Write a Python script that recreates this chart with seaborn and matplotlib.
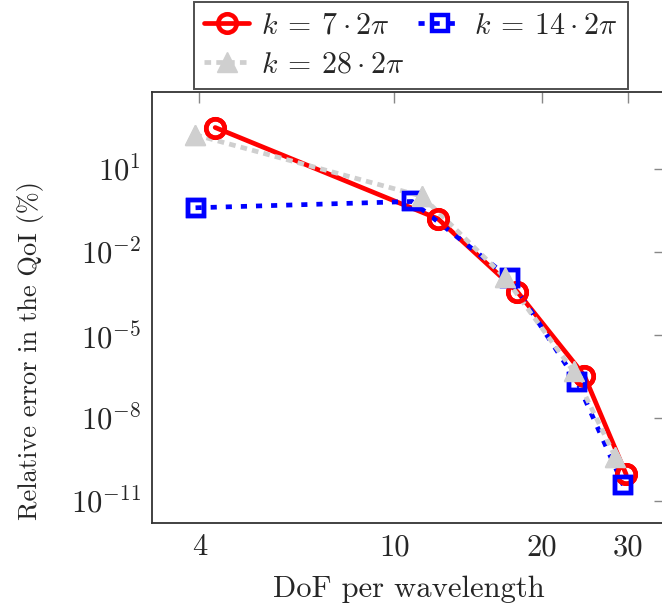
import numpy as np
import pandas as pd
import seaborn as sns
import matplotlib
matplotlib.use("Agg")
import matplotlib.pyplot as plt
from matplotlib.ticker import FixedLocator, NullLocator, LogFormatterSciNotation

# Convergence of the QoI error versus resolution for three wavenumbers
dof_k7 = [4.31, 12.27, 17.8, 24.4, 29.7]
err_k7 = [314.0, 0.158, 3.7e-4, 3.4e-7, 9.1e-11]

dof_k14 = [3.93, 10.87, 17.2, 23.6, 29.3]
err_k14 = [0.394, 0.665, 1.1e-3, 2.0e-7, 3.7e-11]

dof_k28 = [3.92, 11.38, 16.8, 23.2, 28.2]
err_k28 = [172.0, 1.03, 1.2e-3, 4.8e-7, 4.0e-10]

labels = [r"$k\:=\:7\cdot 2\pi$", r"$k\:=\:14\cdot 2\pi$", r"$k\:=\:28\cdot 2\pi$"]
x_ticks = [4, 10, 20, 30]
x_tick_labels = ["4", "10", "20", "30"]
y_exponents = [1, -2, -5, -8, -11]

sns.set_theme(style="white")
plt.rcParams["font.family"] = ["serif"]
plt.rcParams["font.serif"] = ["cmr10", "DejaVu Serif"]
plt.rcParams["mathtext.fontset"] = "cm"
plt.rcParams["axes.formatter.use_mathtext"] = True

W, H = 662, 609
fig = plt.figure(figsize=(W / 100, H / 100), dpi=100)
ax = fig.add_axes([152 / W, (H - 522.7) / H, (665 - 152) / W, (522.7 - 92.3) / H])

series = [
    dict(x=dof_k7, y=err_k7, label=labels[0], color="#ff0000", ls="-",
         marker="o", ms=13.3, mew=3.3, mfc="none"),
    dict(x=dof_k14, y=err_k14, label=labels[1], color="#0000ff", ls=(0, (1.3, 1.9)),
         marker="s", ms=12.0, mew=3.2, mfc="none"),
    dict(x=dof_k28, y=err_k28, label=labels[2], color="#cfcfcf", ls=(0, (1.4, 1.1)),
         marker="^", ms=15.0, mew=1.0, mfc="#cfcfcf"),
]

handles = []
for s in series:
    df = pd.DataFrame({"dof": s["x"], "err": s["y"]})
    sns.lineplot(data=df, x="dof", y="err", ax=ax, sort=False, estimator=None,
                 color=s["color"], linestyle=s["ls"], linewidth=3.4,
                 marker=s["marker"], markersize=s["ms"], markeredgewidth=s["mew"],
                 markerfacecolor=s["mfc"], markeredgecolor=s["color"],
                 label=s["label"], zorder=2, legend=False)
    handles.append(ax.lines[-1])

# marks sit on top of every line
for s in series:
    df = pd.DataFrame({"dof": s["x"], "err": s["y"]})
    sns.lineplot(data=df, x="dof", y="err", ax=ax, sort=False, estimator=None,
                 linestyle="none", marker=s["marker"], markersize=s["ms"],
                 markeredgewidth=s["mew"], markerfacecolor=s["mfc"],
                 markeredgecolor=s["color"], zorder=3, legend=False)

ax.set_xscale("log")
ax.set_yscale("log")
ax.set_xlim(3.203, 35.65)
ax.set_ylim(10 ** -11.79, 10 ** 3.77)

ax.xaxis.set_major_locator(FixedLocator(x_ticks))
ax.set_xticklabels(x_tick_labels)
ax.xaxis.set_minor_locator(NullLocator())
ax.yaxis.set_major_locator(FixedLocator([10.0 ** e for e in y_exponents]))
ax.yaxis.set_major_formatter(LogFormatterSciNotation())
ax.yaxis.set_minor_locator(NullLocator())

ax.tick_params(which="major", direction="in", length=8, width=1.0, color="#888888",
               top=True, right=True, labelsize=22, pad=8)
for sp in ax.spines.values():
    sp.set_color("#333333")
    sp.set_linewidth(1.3)

ax.set_xlabel("DoF per wavelength", fontsize=22, labelpad=10)
ax.set_ylabel("Relative error in the QoI (%)", fontsize=19)
ax.yaxis.set_label_coords((44 - 152) / 513, (522.7 - 350) / 430.4)

# legend laid out row by row: first row k=7, k=14; second row k=28
order = [0, 2, 1]
leg = fig.legend(handles=[handles[i] for i in order], labels=[labels[i] for i in order],
                 ncol=2, fontsize=21.5,
                 loc="upper left", bbox_to_anchor=(194 / W, 1 - 2 / H),
                 frameon=True, fancybox=False, edgecolor="#222222",
                 handlelength=1.5, handletextpad=0.4, columnspacing=0.45,
                 borderpad=0.34, labelspacing=0.4, numpoints=1,
                 borderaxespad=0)
leg.get_frame().set_linewidth(1.4)

fig.savefig("out.png", dpi=100)
